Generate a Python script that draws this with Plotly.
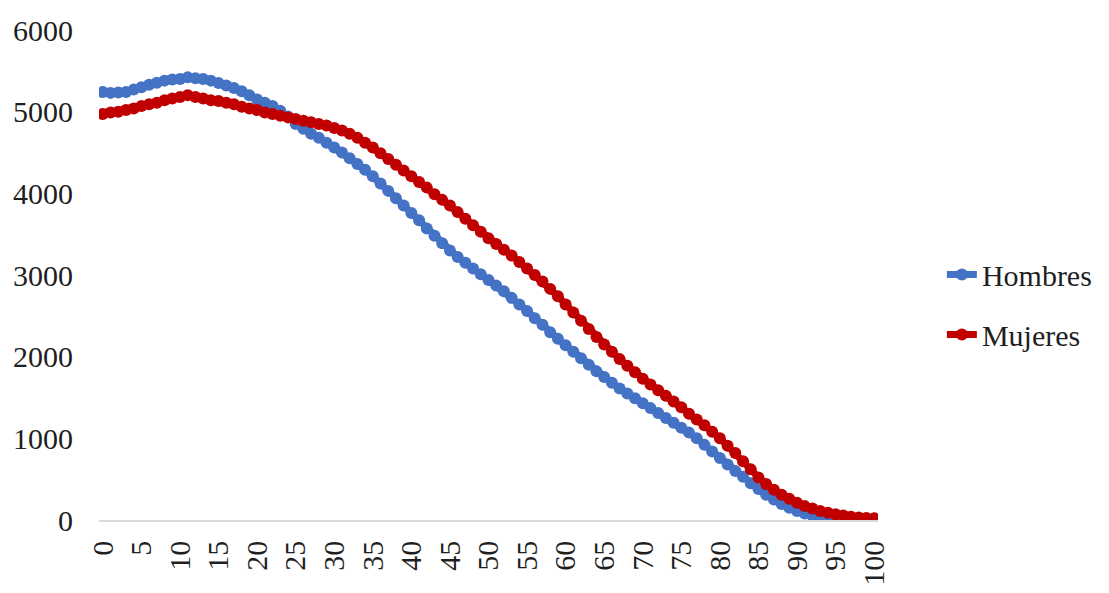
import plotly.graph_objects as go

ages = list(range(0, 101))

hombres = [
    5240, 5230, 5235, 5240, 5270, 5300, 5330, 5355, 5380, 5395,
    5400, 5420, 5410, 5400, 5380, 5350, 5320, 5290, 5250, 5200,
    5150, 5110, 5070, 5010, 4940, 4850, 4790, 4730, 4680, 4620,
    4560, 4500, 4430, 4360, 4290, 4210, 4120, 4030, 3940, 3850,
    3760, 3670, 3570, 3480, 3390, 3300, 3220, 3150, 3080, 3010,
    2940, 2870, 2800, 2720, 2640, 2560, 2470, 2390, 2300, 2220,
    2140, 2060, 1980, 1900, 1820, 1750, 1680, 1610, 1550, 1490,
    1430, 1370, 1310, 1250, 1190, 1130, 1070, 1000, 920, 840,
    760, 680, 600, 530, 450, 380, 310, 250, 195, 150,
    110, 80, 55, 40, 30, 20, 15, 10, 8, 5,
    5,
]

mujeres = [
    4970, 4990, 5000, 5020, 5040, 5070, 5090, 5110, 5140, 5160,
    5180, 5200, 5180, 5160, 5140, 5130, 5110, 5090, 5060, 5040,
    5020, 4990, 4970, 4950, 4930, 4910, 4890, 4870, 4850, 4830,
    4800, 4770, 4730, 4680, 4620, 4560, 4490, 4420, 4350, 4280,
    4210, 4140, 4070, 3990, 3920, 3850, 3770, 3690, 3610, 3530,
    3450, 3380, 3310, 3240, 3160, 3080, 3000, 2920, 2830, 2740,
    2640, 2540, 2440, 2340, 2240, 2150, 2060, 1970, 1890, 1810,
    1730, 1660, 1590, 1520, 1450, 1380, 1300, 1230, 1160, 1080,
    1000, 910, 820, 720, 620, 520, 440, 370, 310, 260,
    210, 170, 140, 110, 90, 70, 55, 40, 30, 25,
    20,
]

x_ticks = list(range(0, 101, 5))
y_ticks = [0, 1000, 2000, 3000, 4000, 5000, 6000]

FONT = "Liberation Serif"
TXT = "#1f1f1f"

fig = go.Figure()
fig.add_trace(go.Scatter(
    x=ages, y=hombres, name="Hombres", mode="lines+markers",
    line=dict(color="#4472C4", width=7),
    marker=dict(color="#4472C4", size=12),
    legendgroup="h",
))
fig.add_trace(go.Scatter(
    x=ages, y=mujeres, name="Mujeres", mode="lines+markers",
    line=dict(color="#C00000", width=7),
    marker=dict(color="#C00000", size=12),
    legendgroup="m",
))

fig.update_layout(
    width=1109, height=593,
    margin=dict(l=99, r=228, t=30, b=73),
    paper_bgcolor="white", plot_bgcolor="white",
    font=dict(family=FONT, size=30, color=TXT),
    showlegend=True,
    legend=dict(x=1.082, y=0.44, xanchor="left", yanchor="middle",
                font=dict(family=FONT, size=30, color=TXT),
                tracegroupgap=18, bgcolor="rgba(0,0,0,0)"),
    xaxis=dict(
        range=[-0.5, 100.5], tickmode="array", tickvals=x_ticks,
        ticktext=[str(v) for v in x_ticks], tickangle=-90,
        showgrid=False, zeroline=False, showline=True,
        linecolor="#D9D9D9", linewidth=1.5, ticks="",
        ticklabelstandoff=7, automargin=False,
        tickfont=dict(family=FONT, size=30, color=TXT),
    ),
    yaxis=dict(
        range=[0, 6000], tickmode="array", tickvals=y_ticks,
        showgrid=False, zeroline=False, showline=False, ticks="",
        ticklabelstandoff=25, automargin=False,
        tickfont=dict(family=FONT, size=30, color=TXT),
    ),
)

fig.write_html("out.html")
